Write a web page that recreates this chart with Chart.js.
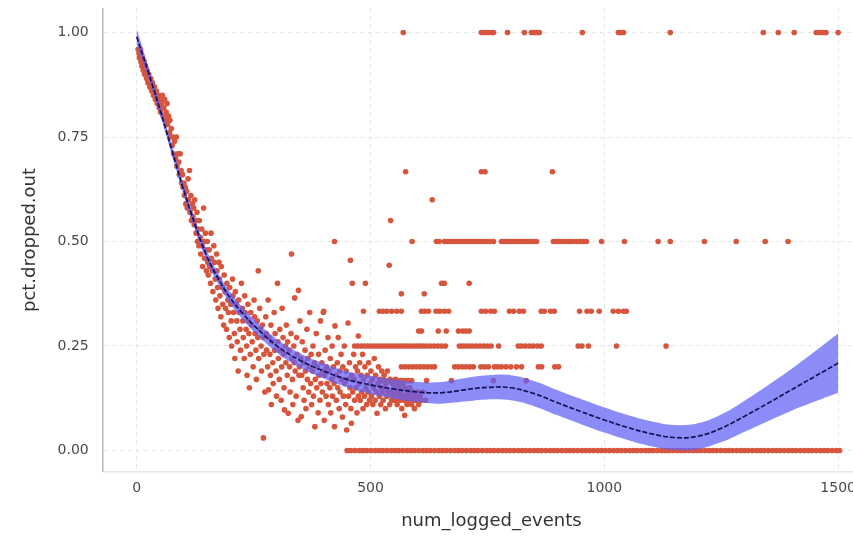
<!DOCTYPE html>
<html>
<head>
<meta charset="utf-8">
<script src="https://cdn.jsdelivr.net/npm/chart.js@4.4.0/dist/chart.umd.min.js"></script>
<style>
  html, body { margin: 0; padding: 0; background: #fff; overflow: hidden; }
  #wrap { position: absolute; left: 0; top: -14px; width: 900px; height: 557px; }
</style>
</head>
<body>
<div id="wrap"><canvas id="chart"></canvas></div>
<script>
// Tick labels
const xTicks = [0, 500, 1000, 1500];
const yTicks = [0, 0.25, 0.5, 0.75, 1];

// Main cloud of points [num_logged_events, pct.dropped.out]
const cloudPts = [
  [3,0.96],[5,0.95],[6,0.94],[8,0.96],[9,0.93],[11,0.92],[12,0.94],[14,0.91],[16,0.93],[17,0.90],[19,0.92],[21,0.89],[22,0.91],[24,0.88],
  [26,0.90],[28,0.87],[30,0.89],[32,0.86],[34,0.88],[36,0.85],[38,0.87],[40,0.84],[42,0.86],[44,0.83],[46,0.85],[48,0.82],[49,0.84],
  [51,0.81],[53,0.83],[55,0.85],[57,0.80],[58,0.82],[60,0.84],[62,0.79],[63,0.81],[65,0.83],[66,0.78],[68,0.80],[70,0.76],[71,0.79],[73,0.75],[74,0.77],
  [76,0.73],[78,0.75],[79,0.71],[81,0.74],[83,0.70],[85,0.75],[86,0.68],[88,0.71],[90,0.69],[91,0.66],[93,0.71],[95,0.67],[96,0.64],[98,0.66],[99,0.63],
  [101,0.64],[102,0.61],[104,0.63],[105,0.59],[107,0.62],[108,0.58],[110,0.65],[111,0.60],[113,0.67],[114,0.57],[116,0.61],[117,0.55],[119,0.59],[120,0.56],[122,0.58],[123,0.54],[124,0.60],
  [126,0.55],[127,0.52],[129,0.57],[130,0.50],[131,0.53],[133,0.49],[134,0.55],[136,0.51],[137,0.47],[139,0.53],[140,0.49],[141,0.44],[143,0.58],[144,0.50],[145,0.46],[147,0.52],[148,0.48],[149,0.43],
  [151,0.50],[152,0.45],[153,0.42],[155,0.48],[156,0.44],[158,0.40],[159,0.52],[160,0.46],[162,0.43],[163,0.38],[165,0.49],[166,0.45],[168,0.41],[169,0.36],[171,0.47],[172,0.43],[173,0.39],[174,0.34],
  [176,0.45],[177,0.41],[178,0.37],[180,0.32],[181,0.44],[183,0.39],[184,0.35],[186,0.30],[187,0.42],[189,0.38],[190,0.34],[192,0.29],[193,0.40],[195,0.36],[196,0.33],[198,0.27],[199,0.39],
  [201,0.35],[202,0.31],[203,0.25],[205,0.41],[206,0.37],[207,0.33],[209,0.28],[210,0.22],[211,0.38],[213,0.35],[214,0.31],[215,0.26],[217,0.19],[218,0.36],[219,0.33],[221,0.29],[222,0.24],[224,0.40],
  [226,0.34],[227,0.31],[228,0.27],[230,0.22],[231,0.37],[232,0.33],[234,0.29],[235,0.25],[236,0.18],[238,0.35],[239,0.31],[240,0.28],[241,0.15],[243,0.23],[244,0.33],[246,0.30],[247,0.26],[249,0.20],
  [251,0.36],[252,0.32],[253,0.28],[255,0.24],[256,0.17],[258,0.31],[259,0.27],[260,0.43],[261,0.22],[263,0.34],[264,0.29],[266,0.25],[267,0.19],[269,0.30],[270,0.27],[271,0.03],[272,0.23],[274,0.14],
  [276,0.32],[277,0.28],[278,0.24],[280,0.20],[281,0.36],[282,0.145],[283,0.27],[285,0.23],[286,0.18],[287,0.30],[288,0.11],[289,0.26],[291,0.21],[292,0.16],[294,0.33],[295,0.24],[296,0.28],[298,0.19],[299,0.13],
  [301,0.40],[302,0.26],[303,0.22],[305,0.17],[306,0.29],[307,0.24],[309,0.12],[310,0.20],[311,0.34],[313,0.27],[314,0.23],[315,0.15],[316,0.097],[318,0.25],[319,0.21],[320,0.30],[322,0.18],[323,0.26],[324,0.089],
  [326,0.24],[327,0.20],[328,0.14],[330,0.28],[331,0.47],[332,0.22],[333,0.17],[334,0.11],[336,0.25],[337,0.21],[338,0.365],[339,0.19],[341,0.13],[342,0.27],[343,0.23],[345,0.072],[346,0.383],[347,0.18],[348,0.20],[349,0.31],
  [351,0.22],[352,0.081],[353,0.18],[354,0.26],[356,0.15],[357,0.21],[358,0.12],[360,0.24],[361,0.19],[362,0.10],[364,0.29],[365,0.17],[366,0.22],[368,0.14],[369,0.20],[370,0.33],[372,0.16],[373,0.23],[374,0.11],
  [376,0.19],[377,0.25],[378,0.13],[380,0.21],[381,0.057],[382,0.17],[384,0.28],[385,0.15],[386,0.20],[388,0.09],[389,0.23],[390,0.18],[392,0.12],[393,0.31],[394,0.16],[396,0.21],[397,0.14],[398,0.19],[399,0.33],
  [401,0.072],[402,0.18],[403,0.24],[405,0.13],[406,0.20],[407,0.16],[409,0.27],[410,0.11],[411,0.19],[413,0.15],[414,0.22],[415,0.09],[417,0.17],[418,0.25],[419,0.13],[421,0.20],[422,0.16],[423,0.057],[424,0.298],
  [426,0.18],[427,0.12],[429,0.21],[430,0.15],[431,0.27],[433,0.10],[434,0.19],[435,0.14],[437,0.23],[438,0.17],[440,0.08],[441,0.20],[442,0.13],[444,0.25],[445,0.16],[447,0.11],[448,0.19],[449,0.049],
  [451,0.17],[452,0.305],[453,0.13],[455,0.21],[456,0.15],[457,0.455],[458,0.10],[459,0.065],[460,0.18],[461,0.40],[462,0.14],[464,0.23],[465,0.17],[466,0.12],[468,0.20],[469,0.15],[471,0.09],[472,0.19],[474,0.274],[474,0.13],
  [476,0.16],[477,0.21],[478,0.12],[480,0.18],[481,0.14],[483,0.23],[484,0.10],[485,0.17],[487,0.13],[488,0.20],[489,0.40],[490,0.15],[492,0.11],[493,0.18],[495,0.14],[496,0.21],[498,0.12],[499,0.16],
  [501,0.19],[502,0.13],[504,0.17],[505,0.11],[507,0.15],[508,0.22],[510,0.12],[511,0.18],[513,0.14],[514,0.089],[516,0.16],[517,0.20],[519,0.13],[520,0.17],[522,0.11],[523,0.15],[524,0.19],
  [526,0.14],[527,0.12],[529,0.18],[530,0.15],[532,0.10],[533,0.16],[535,0.13],[536,0.19],[538,0.14],[540,0.443],[541,0.11],[542,0.17],[543,0.55],[544,0.14],[545,0.12],[547,0.16],[548,0.13],
  [551,0.15],[552,0.12],[554,0.17],[555,0.14],[557,0.11],[558,0.16],[560,0.13],[562,0.15],[563,0.12],[565,0.14],[566,0.375],[567,0.10],[569,0.16],[570,0.13],[572,0.12],[573,0.084],[574,0.15],
  [576,0.13],[578,0.11],[580,0.14],[582,0.12],[584,0.15],[586,0.13],[588,0.11],[590,0.14],[592,0.12],[594,0.10],[596,0.13],[598,0.12],[600,0.14],[603,0.11],[606,0.13],[609,0.12],[612,0.14],[615,0.375],[618,0.12],[632,0.6]
];

// Points sitting on discrete fractions: x positions per level
const row100X = [570,737,744,751,758,763,793,829,844,850,856,861,953,1030,1036,1041,1141,1340,1372,1406,1453,1460,1467,1474,1500];
const row067X = [575,737,745,889];
const row050X = [423,589,641,647,658,664,669,675,681,686,692,698,703,709,715,720,726,734,741,748,755,763,780,786,792,798,804,810,816,822,828,834,841,848,855,891,897,904,911,918,925,932,940,947,955,962,994,1043,1115,1141,1214,1282,1344,1393];
const row040X = [652,658,711];
const row033X = [400,485,519,527,535,545,556,566,609,616,624,640,648,658,667,737,746,757,765,797,806,818,827,865,872,885,893,947,963,972,989,1019,1030,1041,1047];
const row029X = [603,609,645,662,688,697,704,711];
const row025X = [466,473,480,487,494,501,508,515,522,529,536,543,550,557,564,571,578,585,592,599,606,613,620,628,636,644,652,660,690,697,704,711,718,726,734,742,750,758,774,816,823,831,840,848,857,865,944,952,966,1026,1132];
const row020X = [566,574,582,590,598,606,614,622,630,637,680,688,696,704,712,720,736,744,752,765,772,780,790,800,812,823,859,866,894,902];
const row017X = [523,531,540,548,556,565,573,580,588,620,673,763,833];
const row000X = [450,458,467,476,484,492,501,510,518,526,535,544,552,560,569,578,586,594,603,612,620,628,637,646,654,662,671,680,688,696,705,714,722,730,739,748,756,764,773,782,790,798,807,816,824,832,841,850,858,866,875,884,892,900,909,918,926,934,943,952,960,968,977,986,994,1002,1011,1020,1028,1036,1045,1054,1062,1070,1079,1088,1096,1104,1113,1122,1130,1138,1147,1156,1164,1172,1181,1190,1198,1206,1215,1224,1232,1240,1249,1258,1266,1274,1283,1292,1300,1308,1317,1326,1334,1342,1351,1360,1368,1376,1385,1394,1402,1410,1419,1428,1436,1444,1453,1462,1470,1478,1487,1496,1503];

// Smoothed fit with confidence band
const smoothX = [0,25,50,75,100,125,150,175,200,225,250,300,350,400,450,500,550,600,650,700,750,800,850,900,950,1000,1050,1100,1150,1200,1250,1300,1350,1400,1450,1500];
const smoothY = [0.99,0.905,0.815,0.72,0.625,0.54,0.465,0.41,0.365,0.33,0.30,0.25,0.215,0.19,0.17,0.157,0.147,0.14,0.138,0.145,0.151,0.150,0.136,0.114,0.093,0.073,0.055,0.040,0.031,0.034,0.053,0.082,0.113,0.145,0.177,0.209];
const bandLow = [0.97,0.892,0.803,0.708,0.613,0.528,0.452,0.397,0.351,0.316,0.285,0.234,0.198,0.172,0.151,0.135,0.124,0.116,0.112,0.117,0.122,0.120,0.106,0.084,0.063,0.043,0.025,0.010,0.001,0.003,0.02,0.045,0.07,0.095,0.117,0.138];
const bandHigh = [1.01,0.918,0.827,0.732,0.637,0.552,0.478,0.423,0.379,0.344,0.315,0.266,0.232,0.208,0.189,0.179,0.170,0.164,0.164,0.173,0.180,0.180,0.166,0.144,0.123,0.103,0.085,0.070,0.061,0.065,0.086,0.119,0.156,0.195,0.237,0.28];

const rowLevels = [
  [1, row100X], [0.667, row067X], [0.5, row050X], [0.4, row040X], [0.333, row033X],
  [0.286, row029X], [0.25, row025X], [0.2, row020X], [0.167, row017X], [0, row000X]
];

const scatterData = cloudPts.map(p => ({ x: p[0], y: p[1] }));
rowLevels.forEach(([lvl, xs]) => xs.forEach(x => scatterData.push({ x: x, y: lvl })));

const toXY = ys => smoothX.map((x, i) => ({ x: x, y: ys[i] }));

new Chart(document.getElementById('chart'), {
  type: 'scatter',
  data: {
    datasets: [
      {
        type: 'line',
        data: toXY(smoothY),
        borderColor: '#161256',
        borderWidth: 1.7,
        borderDash: [5, 2],
        pointRadius: 0,
        tension: 0.4,
        fill: false,
        order: 0
      },
      {
        type: 'line',
        data: toXY(bandHigh),
        borderWidth: 0,
        borderColor: 'rgba(0,0,0,0)',
        backgroundColor: 'rgba(95,95,245,0.72)',
        pointRadius: 0,
        tension: 0.4,
        fill: '+1',
        order: 1
      },
      {
        type: 'line',
        data: toXY(bandLow),
        borderWidth: 0,
        borderColor: 'rgba(0,0,0,0)',
        pointRadius: 0,
        tension: 0.4,
        fill: false,
        order: 2
      },
      {
        data: scatterData,
        pointRadius: 2.8,
        pointHoverRadius: 2.8,
        pointBorderWidth: 0,
        backgroundColor: '#d6553c',
        order: 3
      }
    ]
  },
  options: {
    responsive: true,
    maintainAspectRatio: false,
    animation: false,
    layout: { padding: { top: 8, left: 10, right: 20, bottom: 7 } },
    plugins: { legend: { display: false }, tooltip: { enabled: false } },
    scales: {
      x: {
        type: 'linear',
        min: -72.5,
        max: 1589.5,
        afterBuildTicks: axis => { axis.ticks = xTicks.map(v => ({ value: v })); },
        ticks: {
          padding: 8,
          color: '#4a4a4a',
          font: { family: 'DejaVu Sans', size: 14 },
          callback: v => String(v)
        },
        grid: { color: '#e6e6e6', lineWidth: 1, drawTicks: false },
        border: { display: true, color: '#e6e6e6', width: 1.5, dash: [4, 4] },
        title: {
          display: true,
          text: 'num_logged_events',
          color: '#333',
          font: { family: 'DejaVu Sans', size: 18 },
          padding: { top: 6, bottom: 4 }
        }
      },
      y: {
        min: -0.0506,
        max: 1.0578,
        afterBuildTicks: axis => { axis.ticks = yTicks.map(v => ({ value: v })); },
        ticks: {
          padding: 14,
          color: '#4a4a4a',
          font: { family: 'DejaVu Sans', size: 14 },
          callback: v => Number(v).toFixed(2)
        },
        grid: { color: '#e3e3e3', lineWidth: 1, drawTicks: false },
        border: { display: true, color: '#b8b8b8', width: 1.5, dash: [4, 4] },
        title: {
          display: true,
          text: 'pct.dropped.out',
          color: '#333',
          font: { family: 'DejaVu Sans', size: 18 },
          padding: { top: 10, bottom: 2 }
        }
      }
    }
  }
});
</script>
</body>
</html>
